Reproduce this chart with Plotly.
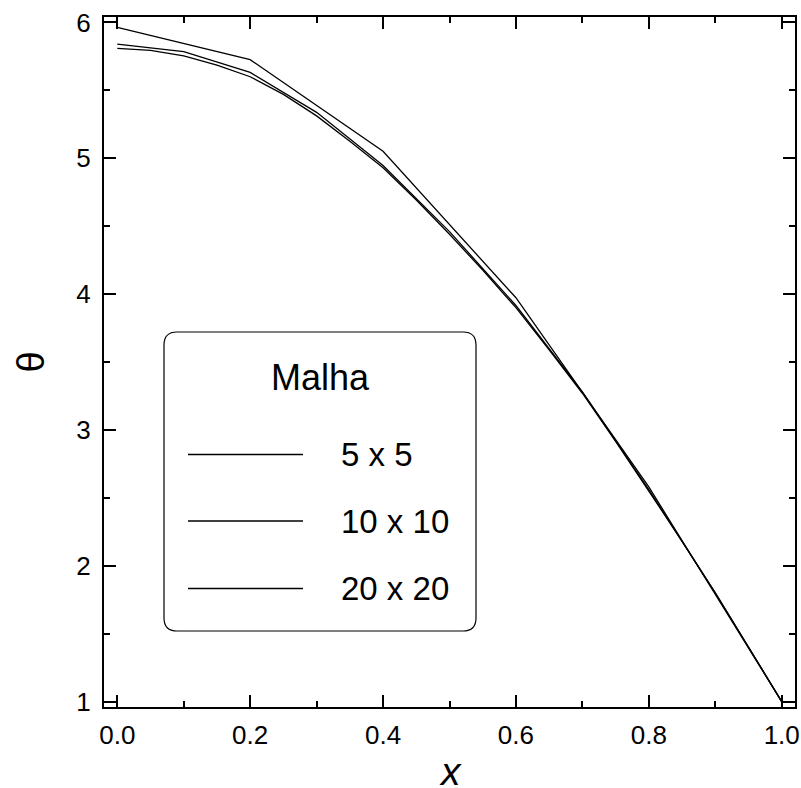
import plotly.graph_objects as go

# ---- data ----
series_names = ["5 x 5", "10 x 10", "20 x 20"]

x_5 = [0.0, 0.2, 0.4, 0.6, 0.8, 1.0]
theta_5 = [5.963, 5.726, 5.051, 3.973, 2.580, 1.0]

x_10 = [0.0, 0.1, 0.2, 0.3, 0.4, 0.5, 0.6, 0.7, 0.8, 0.9, 1.0]
theta_10 = [5.841, 5.785, 5.632, 5.338, 4.946, 4.460, 3.916, 3.280, 2.560, 1.800, 1.0]

x_20 = [0.0, 0.05, 0.1, 0.15, 0.2, 0.25, 0.3, 0.35, 0.4, 0.45, 0.5,
        0.55, 0.6, 0.65, 0.7, 0.75, 0.8, 0.85, 0.9, 0.95, 1.0]
theta_20 = [5.809, 5.795, 5.753, 5.685, 5.600, 5.470, 5.312, 5.125, 4.930, 4.693, 4.440,
            4.177, 3.900, 3.590, 3.270, 2.915, 2.550, 2.180, 1.800, 1.405, 1.0]

x_ticks = [0.0, 0.2, 0.4, 0.6, 0.8, 1.0]
x_tick_labels = ["0.0", "0.2", "0.4", "0.6", "0.8", "1.0"]
y_ticks = [1, 2, 3, 4, 5, 6]
y_tick_labels = ["1", "2", "3", "4", "5", "6"]

legend_title = "Malha"
x_title = "x"
y_title = "θ"

# ---- layout geometry (pixels) ----
W, H = 801, 788
L, R, T, B = 104, 6, 17, 81
PW = W - L - R
PH = H - T - B

def px(xp):
    return (xp - L) / PW

def py(yp):
    return (H - B - yp) / PH

FONT = "Arial, Liberation Sans, Helvetica, sans-serif"

fig = go.Figure()
for name, xs, ys in [(series_names[0], x_5, theta_5),
                     (series_names[1], x_10, theta_10),
                     (series_names[2], x_20, theta_20)]:
    fig.add_trace(go.Scatter(x=xs, y=ys, mode="lines", name=name,
                             line=dict(color="black", width=1.3),
                             showlegend=False, hoverinfo="skip"))

axis_common = dict(
    showline=True, linecolor="black", linewidth=2.2, mirror="ticks",
    ticks="inside", ticklen=12, tickwidth=2, tickcolor="black",
    showgrid=False, zeroline=False, ticklabeloverflow="allow",
    tickfont=dict(family=FONT, size=26, color="black"),
)

fig.update_xaxes(range=[-0.02, 1.02], tickvals=x_ticks, ticktext=x_tick_labels,
                 minor=dict(ticks="inside", ticklen=6, tickwidth=2, tickcolor="black", dtick=0.1,
                            tick0=0, showgrid=False),
                 ticklabelstandoff=4,
                 **axis_common)
fig.update_yaxes(range=[0.96, 6.04], tickvals=y_ticks, ticktext=y_tick_labels,
                 minor=dict(ticks="inside", ticklen=6, tickwidth=2, tickcolor="black", dtick=0.5,
                            tick0=0, showgrid=False),
                 ticklabelstandoff=6,
                 title=dict(text=y_title, font=dict(family=FONT, size=38, color="black"),
                            standoff=20),
                 **axis_common)

# x axis title (placed as annotation for exact position)
fig.add_annotation(x=px(450), y=py(771), xref="paper", yref="paper",
                   text=x_title, showarrow=False, xanchor="center", yanchor="middle",
                   font=dict(family=FONT, size=39, color="black", style="italic"))

# ---- legend box (rounded rectangle) ----
bx0, bx1, by0, by1 = 164, 476, 332, 631
rr = 13
x0, x1 = px(bx0), px(bx1)
y0, y1 = py(by1), py(by0)
rx, ry = rr / PW, rr / PH
path = (f"M {x0+rx},{y0} L {x1-rx},{y0} Q {x1},{y0} {x1},{y0+ry} "
        f"L {x1},{y1-ry} Q {x1},{y1} {x1-rx},{y1} "
        f"L {x0+rx},{y1} Q {x0},{y1} {x0},{y1-ry} "
        f"L {x0},{y0+ry} Q {x0},{y0} {x0+rx},{y0} Z")
fig.add_shape(type="path", path=path, xref="paper", yref="paper",
              line=dict(color="black", width=1.2), fillcolor="white", layer="above")

fig.add_annotation(x=px(320), y=py(377), xref="paper", yref="paper",
                   text=legend_title, showarrow=False, xanchor="center", yanchor="middle",
                   font=dict(family=FONT, size=36, color="black"))

entry_y = [454.5, 521, 588.5]
for name, ey in zip(series_names, entry_y):
    fig.add_shape(type="line", xref="paper", yref="paper",
                  x0=px(188), x1=px(303), y0=py(ey), y1=py(ey),
                  line=dict(color="black", width=1.3), layer="above")
    fig.add_annotation(x=px(339), y=py(ey), xref="paper", yref="paper",
                       text=name, showarrow=False, xanchor="left", yanchor="middle",
                       font=dict(family=FONT, size=33, color="black"))

fig.update_layout(
    width=W, height=H,
    margin=dict(l=L, r=R, t=T, b=B, autoexpand=False),
    paper_bgcolor="white", plot_bgcolor="white",
    showlegend=False, hovermode=False,
)

# remove the browser's default 8px body margin so the figure fills the window
fig.write_html("out.html",
               config={"displayModeBar": False, "staticPlot": True},
               post_script="document.body.style.margin='0';document.body.style.overflow='hidden';")
